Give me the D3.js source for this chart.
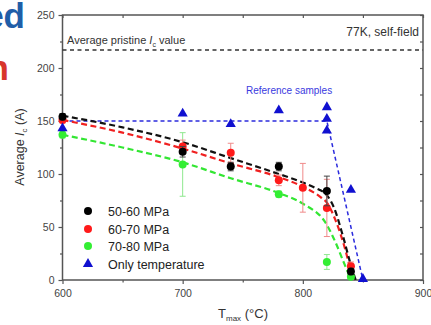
<!DOCTYPE html>
<html>
<head>
<meta charset="utf-8">
<script src="https://cdn.jsdelivr.net/npm/d3@7"></script>
<style>
  html, body { margin: 0; padding: 0; background: #fff; }
  svg { display: block; font-family: "Liberation Sans", Arial, sans-serif; }
</style>
</head>
<body>
<svg id="chart" width="431" height="325"></svg>
<script>
// Measured critical current vs. maximum temperature, grouped by applied pressure
const legendLabels = ["50-60 MPa", "60-70 MPa", "70-80 MPa", "Only temperature"];

const tempsLow = [600, 700, 740, 780, 820, 840];
const icLow = [154, 121, 107, 107, 84, 8];
const errLow = [3, 5, 4, 4, 14, 3];

const tempsMid = [600, 700, 740, 780, 800, 820, 840];
const icMid = [151, 126, 120, 94, 87, 68, 13];
const errMid = [3, 6, 9, 5, 23, 27, 4];

const tempsHigh = [600, 700, 780, 820, 840];
const icHigh = [137, 109, 81, 17, 3];
const errHigh = [3, 30, 3, 7, 2];

const tempsRef = [600, 700, 740, 780, 820, 820, 820, 840, 850];
const icRef = [143, 157, 147, 160, 163, 152, 141, 85, 1];

// Guide curves through each group
const fitTempsLow = [600, 650, 700, 740, 780, 800, 810, 820, 826, 833, 840, 844];
const fitLow = [155, 144, 130, 115, 100, 92, 87, 80, 68, 43, 14, 0];
const fitTempsMid = [600, 650, 700, 740, 780, 800, 815, 820, 827, 835, 840, 843];
const fitMid = [151, 139, 124, 110, 97, 88, 78, 73, 57, 30, 9, 0];
const fitTempsHigh = [600, 650, 700, 740, 780, 800, 820, 827, 835, 840];
const fitHigh = [137, 125, 111, 96, 82, 72, 52, 36, 14, 1];
const fitTempsRef = [600, 820, 850];
const fitRef = [150, 150, 0];

const pristineIc = 217;

const xTicks = [600, 700, 800, 900];
const xMinor = [650, 750, 850];
const yTicks = [0, 50, 100, 150, 200, 250];
const yMinor = [25, 75, 125, 175, 225];

const svg = d3.select("#chart");
const plot = { left: 62.5, right: 423, top: 15, bottom: 280 };

const x = d3.scaleLinear().domain([600, 900]).range([plot.left, plot.right]);
const y = d3.scaleLinear().domain([0, 250]).range([plot.bottom, plot.top]);

const axisColor = "#555";
const tickText = "#444";

// Slide title fragments at the left edge
svg.append("text").attr("x", 25).attr("y", 28).attr("text-anchor", "end")
  .attr("font-size", 35).attr("font-weight", "bold").attr("fill", "#1f5ea8").text("ed");
svg.append("text").attr("x", 9).attr("y", 80).attr("text-anchor", "end")
  .attr("font-size", 35).attr("font-weight", "bold").attr("fill", "#d8352c").text("n");

// Axes
const gx = svg.append("g").attr("transform", `translate(0,${plot.bottom})`)
  .call(d3.axisBottom(x).tickValues(xTicks).tickSize(4).tickPadding(6).tickFormat(d3.format("d")));
const gxMinor = svg.append("g").attr("transform", `translate(0,${plot.bottom})`)
  .call(d3.axisBottom(x).tickValues(xMinor).tickSize(2.5).tickFormat(""));
const gxTop = svg.append("g").attr("transform", `translate(0,${plot.top})`)
  .call(d3.axisBottom(x).tickValues(xTicks.concat(xMinor)).tickSize(3).tickFormat(""));
const gy = svg.append("g").attr("transform", `translate(${plot.left},0)`)
  .call(d3.axisLeft(y).tickValues(yTicks).tickSize(4).tickPadding(4));
const gyMinor = svg.append("g").attr("transform", `translate(${plot.left},0)`)
  .call(d3.axisLeft(y).tickValues(yMinor).tickSize(2.5).tickFormat(""));
const gyRight = svg.append("g").attr("transform", `translate(${plot.right},0)`)
  .call(d3.axisLeft(y).tickValues(yTicks.concat(yMinor)).tickSize(3).tickFormat(""));

[gx, gxMinor, gxTop, gy, gyMinor, gyRight].forEach(g => {
  g.select(".domain").remove();
  g.selectAll(".tick line").attr("stroke", axisColor).attr("stroke-width", 1.2);
  g.selectAll(".tick text").attr("fill", tickText).attr("font-size", 10.5)
    .attr("font-family", "Liberation Sans, Arial, sans-serif");
});

// Frame
svg.append("rect").attr("x", plot.left).attr("y", plot.top)
  .attr("width", plot.right - plot.left).attr("height", plot.bottom - plot.top)
  .attr("fill", "none").attr("stroke", axisColor).attr("stroke-width", 1.5);

// Axis titles
const xl = svg.append("text").attr("x", 243).attr("y", 318).attr("text-anchor", "middle")
  .attr("font-size", 13).attr("fill", "#333");
xl.append("tspan").text("T");
xl.append("tspan").attr("font-size", 8).attr("dy", 3).text("max");
xl.append("tspan").attr("dy", -3).text(" (°C)");

const yl = svg.append("text").attr("transform", "translate(24,147) rotate(-90)")
  .attr("text-anchor", "middle").attr("font-size", 12.5).attr("fill", "#333");
yl.append("tspan").text("Average ");
yl.append("tspan").attr("font-style", "italic").text("I");
yl.append("tspan").attr("font-size", 8).attr("dy", 3).text("c");
yl.append("tspan").attr("dy", -3).text(" (A)");

// Pristine reference level
svg.append("line").attr("x1", plot.left).attr("x2", plot.right)
  .attr("y1", y(pristineIc)).attr("y2", y(pristineIc))
  .attr("stroke", "#333").attr("stroke-width", 1.3).attr("stroke-dasharray", "4,3.5");
const pt = svg.append("text").attr("x", 67).attr("y", 44).attr("font-size", 11).attr("fill", "#333");
pt.append("tspan").text("Average pristine ");
pt.append("tspan").attr("font-style", "italic").text("I");
pt.append("tspan").attr("font-size", 7).attr("dy", 3).text("c");
pt.append("tspan").attr("dy", -3).text(" value");

svg.append("text").attr("x", 419).attr("y", 36).attr("text-anchor", "end")
  .attr("font-size", 12).attr("fill", "#333").text("77K, self-field");

svg.append("text").attr("x", 246).attr("y", 94)
  .attr("font-size", 10).attr("fill", "#3a3ae0").text("Reference samples");

// Guide curves
const line = d3.line().x(d => x(d[0])).y(d => y(d[1])).curve(d3.curveMonotoneX);
const lineStraight = d3.line().x(d => x(d[0])).y(d => y(d[1]));

svg.append("path").datum(d3.zip(fitTempsRef, fitRef)).attr("d", lineStraight)
  .attr("fill", "none").attr("stroke", "#2b2bdd").attr("stroke-width", 1.5).attr("stroke-dasharray", "4,3");
svg.append("path").datum(d3.zip(fitTempsHigh, fitHigh)).attr("d", line)
  .attr("fill", "none").attr("stroke", "#33e633").attr("stroke-width", 2.2).attr("stroke-dasharray", "6,3.5");
svg.append("path").datum(d3.zip(fitTempsMid, fitMid)).attr("d", line)
  .attr("fill", "none").attr("stroke", "#f02020").attr("stroke-width", 2.2).attr("stroke-dasharray", "6,3.5");
svg.append("path").datum(d3.zip(fitTempsLow, fitLow)).attr("d", line)
  .attr("fill", "none").attr("stroke", "#111").attr("stroke-width", 2.2).attr("stroke-dasharray", "6,3.5");

// Points with error bars
function drawGroup(temps, vals, errs, fill, errColor) {
  const data = d3.zip(temps, vals, errs);
  const g = svg.append("g");
  const eb = g.selectAll("g.eb").data(data).join("g").attr("stroke", errColor).attr("stroke-width", 1);
  eb.append("line").attr("x1", d => x(d[0])).attr("x2", d => x(d[0]))
    .attr("y1", d => y(d[1] - d[2])).attr("y2", d => y(d[1] + d[2]));
  eb.append("line").attr("x1", d => x(d[0]) - 3).attr("x2", d => x(d[0]) + 3)
    .attr("y1", d => y(d[1] - d[2])).attr("y2", d => y(d[1] - d[2]));
  eb.append("line").attr("x1", d => x(d[0]) - 3).attr("x2", d => x(d[0]) + 3)
    .attr("y1", d => y(d[1] + d[2])).attr("y2", d => y(d[1] + d[2]));
  g.selectAll("circle").data(data).join("circle")
    .attr("cx", d => x(d[0])).attr("cy", d => y(d[1])).attr("r", 4).attr("fill", fill);
}
drawGroup(tempsHigh, icHigh, errHigh, "#33ee33", "#8fe88f");
drawGroup(tempsMid, icMid, errMid, "#ff1a1a", "#f08a8a");
drawGroup(tempsLow, icLow, errLow, "#000", "#444");

const tri = d3.symbol().type(d3.symbolTriangle).size(45);
svg.append("g").selectAll("path").data(d3.zip(tempsRef, icRef)).join("path")
  .attr("transform", d => `translate(${x(d[0])},${y(d[1])})`)
  .attr("d", tri).attr("fill", "#1010d0");

// Legend
const legendColors = ["#000", "#ff1a1a", "#33ee33", "#1010d0"];
const legY = [211, 229, 246, 264];
legendLabels.forEach((lab, i) => {
  if (i < 3) {
    svg.append("circle").attr("cx", 88).attr("cy", legY[i]).attr("r", 4).attr("fill", legendColors[i]);
  } else {
    svg.append("path").attr("transform", `translate(88,${legY[i]})`).attr("d", tri).attr("fill", legendColors[i]);
  }
  svg.append("text").attr("x", 108).attr("y", legY[i] + 4.5).attr("font-size", 12.5)
    .attr("fill", "#222").text(lab);
});
</script>
</body>
</html>
